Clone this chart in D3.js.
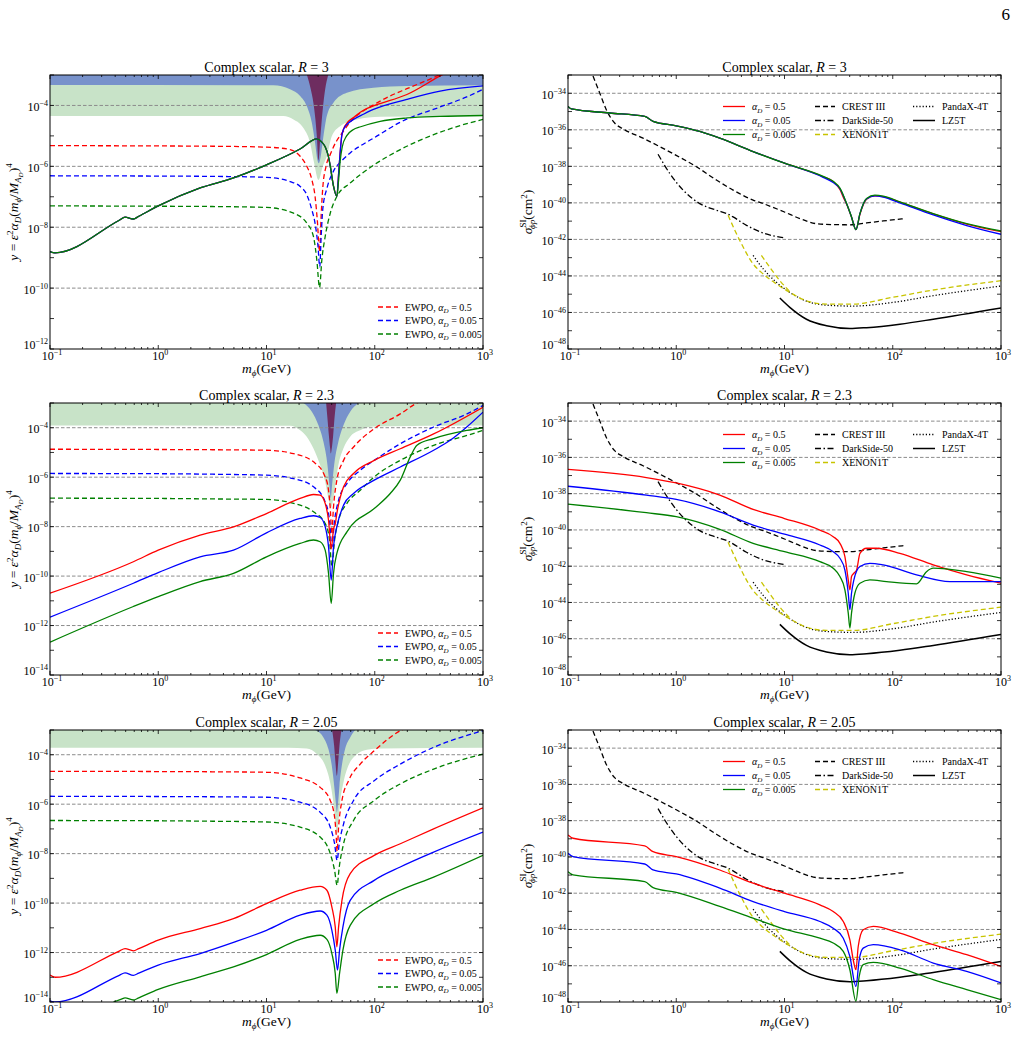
<!DOCTYPE html>
<html>
<head>
<meta charset="utf-8">
<script src="https://cdn.jsdelivr.net/npm/d3@7"></script>
<style>
body{margin:0;background:#fff}
text{font-family:"Liberation Serif","Times New Roman",serif;fill:#000}
</style>
</head>
<body>
<svg id="fig" width="1022" height="1038"></svg>
<script>
// all points are [log10(m_phi / GeV), log10(value)]

var alphaLabels = ['0.5', '0.05', '0.005'];
var rLabels = ['3', '2.3', '2.05'];

// ---- R = 3, left: y = eps^2 alpha_D (m/M)^4
var r3_yA = [[-1,-8.80],[-0.954,-8.84],[-0.36,-7.77],[-0.307,-7.67],[-0.23,-7.73],[-0.18,-7.64],[0,-7.30],[0.387,-6.71],[0.695,-6.38],[1.0,-5.95],[1.31,-5.43],[1.465,-5.10],[1.51,-5.2],[1.542,-5.36],[1.57,-5.65],[1.589,-5.99],[1.619,-6.65],[1.65,-6.99],[1.665,-6.3],[1.68,-5.56],[1.695,-5.0],[1.711,-4.78],[1.75,-4.55],[1.803,-4.4],[1.9,-4.15],[2.0,-4.0],[2.297,-3.64],[2.604,-3.03],[2.7,-2.85]];
var r3_yB = [[-1,-8.80],[-0.954,-8.84],[-0.36,-7.77],[-0.307,-7.67],[-0.23,-7.73],[-0.18,-7.64],[0,-7.30],[0.387,-6.71],[0.695,-6.38],[1.0,-5.95],[1.31,-5.43],[1.465,-5.10],[1.51,-5.2],[1.542,-5.36],[1.57,-5.65],[1.589,-5.99],[1.619,-6.65],[1.65,-6.99],[1.665,-6.3],[1.68,-5.56],[1.695,-5.0],[1.711,-4.79],[1.75,-4.6],[1.803,-4.46],[1.9,-4.28],[1.988,-4.13],[2.297,-3.80],[2.604,-3.53],[3,-3.36]];
var r3_yC = [[-1,-8.80],[-0.954,-8.84],[-0.36,-7.77],[-0.307,-7.67],[-0.23,-7.73],[-0.18,-7.64],[0,-7.30],[0.387,-6.71],[0.695,-6.38],[1.0,-5.95],[1.31,-5.43],[1.465,-5.10],[1.51,-5.2],[1.542,-5.36],[1.57,-5.65],[1.589,-5.99],[1.619,-6.65],[1.65,-6.99],[1.665,-6.5],[1.68,-5.85],[1.70,-5.35],[1.74,-5.0],[1.8,-4.8],[1.87,-4.7],[2.05,-4.52],[2.3,-4.41],[2.6,-4.36],[3,-4.33]];
var r3_ewpoA = [[-1,-5.32],[0,-5.33],[0.5,-5.34],[1.0,-5.37],[1.218,-5.45],[1.311,-5.67],[1.372,-6.0],[1.419,-6.44],[1.449,-7.0],[1.47,-7.8],[1.49,-8.8],[1.505,-7.6],[1.52,-6.7],[1.55,-6.0],[1.59,-5.6],[1.65,-5.15],[1.70,-4.9],[1.773,-4.55],[1.995,-3.97],[2.142,-3.69],[2.297,-3.45],[2.604,-2.98],[2.7,-2.8]];
var r3_ewpoB = [[-1,-6.31],[0,-6.32],[0.5,-6.33],[1.0,-6.36],[1.218,-6.50],[1.311,-6.66],[1.372,-6.93],[1.419,-7.43],[1.45,-7.9],[1.475,-8.6],[1.492,-9.3],[1.505,-8.3],[1.52,-7.4],[1.56,-6.7],[1.62,-6.15],[1.70,-5.8],[1.773,-5.56],[1.928,-5.2],[2.0,-5.05],[2.236,-4.55],[2.604,-4.05],[2.85,-3.72],[3,-3.47]];
var r3_ewpoC = [[-1,-7.30],[0,-7.31],[0.5,-7.32],[1.0,-7.35],[1.25,-7.54],[1.373,-7.87],[1.434,-8.31],[1.465,-9.08],[1.49,-9.98],[1.511,-9.08],[1.542,-8.31],[1.589,-7.54],[1.65,-6.99],[1.773,-6.55],[1.995,-5.95],[2.236,-5.45],[2.544,-4.96],[2.8,-4.65],[3,-4.46]];
var r3_bandG = [[-1,-4.35],[1.156,-4.35],[1.249,-4.46],[1.341,-4.74],[1.403,-5.23],[1.44,-5.89],[1.48,-6.45],[1.52,-6.0],[1.557,-5.67],[1.603,-5.01],[1.68,-4.68],[1.834,-4.46],[2.05,-4.37],[3,-4.35]];
var r3_bandB = [[-1,-3.33],[1.064,-3.34],[1.218,-3.47],[1.311,-3.69],[1.372,-4.02],[1.419,-4.57],[1.449,-5.23],[1.470,-5.78],[1.483,-5.9],[1.495,-5.78],[1.526,-5.01],[1.557,-4.35],[1.618,-3.91],[1.742,-3.58],[1.988,-3.42],[2.297,-3.36],[3,-3.34]];
var r3_bandP = [[1.372,-2.98],[1.409,-3.47],[1.433,-3.91],[1.452,-4.46],[1.465,-5.01],[1.48,-5.8],[1.498,-5.01],[1.511,-4.46],[1.526,-3.91],[1.542,-3.47],[1.572,-2.98]];

// ---- R = 2.3, left
var r23_yA = [[-1,-10.69],[-0.23,-9.42],[0,-8.95],[0.387,-8.34],[0.695,-8.01],[1.0,-7.47],[1.31,-6.86],[1.434,-6.70],[1.496,-6.73],[1.542,-7.06],[1.573,-7.74],[1.598,-8.9],[1.619,-8.1],[1.635,-7.9],[1.650,-7.47],[1.712,-6.39],[1.804,-5.85],[1.995,-5.32],[2.236,-4.85],[2.544,-4.25],[3,-3.17]];
var r23_yB = [[-1,-11.66],[-0.23,-10.29],[0,-9.86],[0.387,-9.22],[0.695,-8.95],[1.0,-8.25],[1.31,-7.67],[1.434,-7.56],[1.496,-7.63],[1.542,-8.0],[1.573,-8.81],[1.598,-10.16],[1.619,-8.81],[1.650,-8.0],[1.712,-7.13],[1.804,-6.66],[1.995,-6.12],[2.236,-5.59],[2.544,-4.91],[2.7,-4.5],[2.85,-3.97],[3,-3.37]];
var r23_yC = [[-1,-12.67],[-0.23,-11.23],[0,-10.83],[0.387,-10.22],[0.695,-9.89],[1.0,-9.22],[1.31,-8.68],[1.434,-8.54],[1.496,-8.61],[1.542,-8.95],[1.573,-9.89],[1.598,-11.1],[1.619,-9.89],[1.650,-9.08],[1.743,-8.21],[1.995,-7.27],[2.143,-6.66],[2.236,-6.12],[2.328,-5.18],[2.39,-4.71],[2.544,-4.44],[2.85,-4.11],[3,-4.0]];
var r23_ewpoA = [[-1,-4.87],[0,-4.88],[0.5,-4.89],[1.0,-4.91],[1.25,-5.05],[1.434,-5.38],[1.542,-5.99],[1.573,-6.53],[1.592,-7.47],[1.602,-8.3],[1.619,-7.20],[1.650,-6.12],[1.712,-5.32],[1.804,-4.78],[1.995,-4.04],[2.236,-3.44],[2.39,-3.0],[2.5,-2.8]];
var r23_ewpoB = [[-1,-5.85],[0,-5.86],[0.5,-5.88],[1.0,-5.92],[1.25,-6.06],[1.434,-6.39],[1.542,-7.0],[1.582,-7.74],[1.604,-8.81],[1.629,-7.74],[1.666,-6.93],[1.743,-6.26],[1.866,-5.72],[1.995,-5.32],[2.236,-4.65],[2.544,-3.97],[2.852,-3.44],[3,-3.10]];
var r23_ewpoC = [[-1,-6.85],[0,-6.86],[0.5,-6.88],[1.0,-6.90],[1.25,-7.06],[1.434,-7.40],[1.542,-7.87],[1.582,-8.54],[1.604,-9.62],[1.629,-8.54],[1.666,-7.74],[1.743,-7.06],[1.866,-6.53],[1.995,-5.99],[2.236,-5.32],[2.544,-4.71],[2.852,-4.31],[3,-4.11]];
var r23_bandG = [[-1,-3.91],[1.218,-3.92],[1.311,-4.10],[1.372,-4.36],[1.433,-4.83],[1.495,-5.51],[1.542,-6.18],[1.572,-6.85],[1.594,-7.25],[1.618,-6.85],[1.640,-6.18],[1.664,-5.51],[1.711,-4.83],[1.773,-4.36],[1.865,-4.10],[1.988,-3.95],[3,-3.91]];
var r23_bandB = [[1.341,-3.0],[1.419,-3.35],[1.480,-3.90],[1.526,-4.57],[1.563,-5.51],[1.581,-6.31],[1.594,-6.85],[1.606,-6.31],[1.625,-5.51],[1.664,-4.57],[1.711,-3.90],[1.773,-3.35],[1.850,-3.0]];
var r23_bandP = [[1.551,-3.0],[1.563,-3.62],[1.576,-4.30],[1.588,-4.83],[1.594,-5.04],[1.603,-4.83],[1.616,-4.30],[1.628,-3.62],[1.643,-3.0]];

// ---- R = 2.05, left
var r205_yA = [[-1,-12.91],[-0.954,-13.0],[-0.36,-11.94],[-0.307,-11.84],[-0.23,-11.93],[-0.18,-11.84],[0,-11.5],[0.387,-11.03],[0.695,-10.63],[1.0,-10.02],[1.31,-9.48],[1.496,-9.32],[1.558,-9.48],[1.604,-10.16],[1.635,-10.96],[1.650,-11.77],[1.666,-10.96],[1.697,-9.89],[1.773,-8.81],[1.995,-8.07],[2.236,-7.60],[2.544,-7.0],[3,-6.15]];
var r205_yB = [[-1,-13.95],[-0.954,-14.0],[-0.36,-12.92],[-0.307,-12.82],[-0.23,-12.92],[-0.18,-12.83],[0,-12.51],[0.387,-12.04],[0.695,-11.59],[1.0,-11.10],[1.31,-10.49],[1.496,-10.32],[1.558,-10.49],[1.604,-11.10],[1.635,-11.90],[1.656,-12.71],[1.675,-11.90],[1.706,-10.96],[1.773,-9.89],[1.995,-9.08],[2.236,-8.54],[2.544,-7.94],[3,-7.13]];
var r205_yC = [[-0.414,-14.0],[-0.34,-13.88],[-0.307,-13.83],[-0.23,-13.92],[-0.18,-13.83],[0,-13.49],[0.387,-12.98],[0.695,-12.58],[1.0,-12.08],[1.31,-11.47],[1.496,-11.30],[1.558,-11.47],[1.604,-12.04],[1.635,-12.84],[1.650,-13.65],[1.675,-12.84],[1.706,-11.90],[1.773,-10.90],[1.995,-10.02],[2.236,-9.48],[2.544,-8.95],[3,-8.07]];
var r205_ewpoA = [[-1,-4.67],[0,-4.68],[0.5,-4.69],[1.0,-4.71],[1.31,-4.94],[1.496,-5.32],[1.589,-5.85],[1.629,-6.53],[1.643,-7.20],[1.652,-7.9],[1.666,-6.93],[1.697,-5.85],[1.758,-5.05],[1.866,-4.38],[1.995,-3.84],[2.236,-3.03],[2.3,-2.9]];
var r205_ewpoB = [[-1,-5.68],[0,-5.69],[0.5,-5.70],[1.0,-5.72],[1.31,-5.92],[1.496,-6.33],[1.589,-6.93],[1.629,-7.60],[1.652,-8.27],[1.672,-7.60],[1.712,-6.80],[1.804,-5.85],[1.995,-5.05],[2.236,-4.38],[2.544,-3.70],[3,-3.03]];
var r205_ewpoC = [[-1,-6.66],[0,-6.67],[0.5,-6.69],[1.0,-6.72],[1.31,-6.93],[1.496,-7.33],[1.589,-8.0],[1.629,-8.68],[1.652,-9.28],[1.672,-8.54],[1.712,-7.60],[1.804,-6.66],[1.995,-5.85],[2.236,-5.18],[2.544,-4.58],[3,-3.97]];
var r205_bandG = [[-1,-3.72],[1.2,-3.72],[1.372,-3.75],[1.465,-3.97],[1.542,-4.44],[1.588,-5.12],[1.618,-5.92],[1.637,-6.73],[1.650,-7.27],[1.664,-6.73],[1.680,-5.92],[1.711,-5.12],[1.757,-4.44],[1.819,-4.04],[1.927,-3.80],[2.05,-3.75],[3,-3.72]];
var r205_bandB = [[1.449,-3.0],[1.526,-3.30],[1.572,-3.77],[1.603,-4.44],[1.625,-5.25],[1.640,-5.92],[1.650,-6.33],[1.662,-5.92],[1.674,-5.25],[1.696,-4.44],[1.726,-3.77],[1.773,-3.30],[1.819,-3.0]];
var r205_bandP = [[1.606,-3.0],[1.625,-3.64],[1.637,-4.31],[1.650,-4.85],[1.662,-4.31],[1.674,-3.64],[1.692,-3.0]];

// ---- right: sigma_SI (cm^2)
var r3_sigA = [[-1,-34.72],[-0.969,-34.86],[-0.615,-35.08],[-0.291,-35.27],[-0.214,-35.54],[0,-35.78],[0.217,-36.09],[0.402,-36.46],[0.71,-37.19],[1.0,-37.83],[1.357,-38.57],[1.45,-38.84],[1.512,-39.27],[1.545,-39.72],[1.573,-40.06],[1.619,-40.77],[1.66,-41.47],[1.697,-40.62],[1.758,-39.8],[1.835,-39.62],[1.912,-39.66],[2.066,-39.96],[2.374,-40.6],[2.683,-41.16],[3,-41.58]];
var r3_sigB = [[-1,-34.72],[-0.969,-34.86],[-0.615,-35.08],[-0.291,-35.27],[-0.214,-35.54],[0,-35.78],[0.217,-36.09],[0.402,-36.46],[0.71,-37.19],[1.0,-37.83],[1.357,-38.6],[1.45,-38.89],[1.512,-39.22],[1.573,-40.04],[1.619,-40.77],[1.66,-41.47],[1.697,-40.59],[1.758,-39.78],[1.835,-39.62],[1.912,-39.68],[2.066,-40.0],[2.374,-40.66],[2.683,-41.24],[3,-41.72]];
var r3_sigC = [[-1,-34.72],[-0.969,-34.86],[-0.615,-35.08],[-0.291,-35.27],[-0.214,-35.54],[0,-35.78],[0.217,-36.09],[0.402,-36.46],[0.71,-37.19],[1.0,-37.83],[1.357,-38.55],[1.45,-38.82],[1.512,-39.19],[1.573,-40.02],[1.619,-40.77],[1.66,-41.47],[1.697,-40.59],[1.758,-39.76],[1.835,-39.58],[1.912,-39.63],[2.066,-39.94],[2.374,-40.59],[2.683,-41.14],[3,-41.54]];
var r23_sigA = [[-1,-36.66],[-0.276,-37.11],[0,-37.41],[0.402,-38.08],[0.71,-38.87],[1.0,-39.37],[1.327,-40.01],[1.45,-40.37],[1.512,-40.74],[1.558,-41.47],[1.589,-42.75],[1.604,-43.30],[1.619,-42.57],[1.641,-42.39],[1.666,-42.21],[1.697,-41.29],[1.758,-41.01],[1.851,-41.01],[2.066,-41.29],[2.374,-41.93],[2.683,-42.48],[3,-42.94]];
var r23_sigB = [[-1,-37.59],[-0.276,-38.08],[0,-38.32],[0.402,-39.0],[0.71,-39.73],[1.0,-40.23],[1.327,-40.83],[1.45,-41.20],[1.512,-41.56],[1.558,-42.21],[1.589,-43.49],[1.604,-44.40],[1.619,-43.49],[1.641,-42.75],[1.697,-42.02],[1.789,-41.84],[1.912,-41.93],[2.22,-42.48],[2.528,-42.85],[2.683,-42.85],[3,-42.85]];
var r23_sigC = [[-1,-38.58],[-0.276,-39.05],[0,-39.27],[0.402,-39.97],[0.71,-40.74],[1.0,-41.20],[1.327,-41.75],[1.45,-42.11],[1.512,-42.57],[1.558,-43.30],[1.589,-44.59],[1.604,-45.41],[1.619,-44.59],[1.65,-43.49],[1.697,-42.94],[1.789,-42.75],[1.943,-42.85],[2.22,-42.97],[2.312,-42.30],[2.374,-42.11],[2.683,-42.30],[3,-42.66]];
var r205_sigA = [[-1,-38.79],[-0.954,-38.97],[-0.291,-39.39],[-0.214,-39.71],[0,-39.98],[0.402,-40.72],[0.71,-41.45],[1.0,-42.0],[1.327,-42.64],[1.45,-43.01],[1.543,-43.56],[1.604,-44.57],[1.635,-45.67],[1.66,-46.22],[1.681,-44.94],[1.727,-44.02],[1.82,-43.83],[2.066,-44.20],[2.374,-44.84],[2.683,-45.39],[3,-46.04]];
var r205_sigB = [[-1,-39.80],[-0.954,-39.98],[-0.291,-40.39],[-0.214,-40.72],[0,-40.94],[0.402,-41.72],[0.71,-42.46],[1.0,-43.01],[1.327,-43.56],[1.45,-43.93],[1.543,-44.48],[1.604,-45.49],[1.66,-47.14],[1.69,-45.67],[1.727,-45.03],[1.82,-44.84],[2.066,-45.12],[2.374,-45.85],[2.683,-46.31],[3,-46.95]];
var r205_sigC = [[-1,-40.81],[-0.954,-40.99],[-0.291,-41.36],[-0.214,-41.69],[0,-41.96],[0.402,-42.73],[0.71,-43.38],[1.0,-43.98],[1.327,-44.48],[1.45,-44.75],[1.543,-45.21],[1.604,-46.22],[1.66,-47.96],[1.69,-46.59],[1.727,-45.94],[1.82,-45.82],[2.066,-46.13],[2.374,-46.77],[2.683,-47.32],[3,-47.87]];

// experimental limits (same on every right panel)
var crest = [[-0.769,-33.06],[-0.707,-33.98],[-0.646,-34.90],[-0.569,-35.63],[-0.492,-35.95],[-0.307,-36.46],[-0.153,-36.92],[0,-37.4],[0.186,-38.02],[0.371,-38.75],[0.525,-39.30],[0.71,-39.85],[0.803,-40.04],[1.0,-40.50],[1.142,-40.86],[1.296,-41.14],[1.45,-41.19],[1.604,-41.2],[1.758,-41.10],[1.912,-40.99],[2.112,-40.86]];
var darkside = [[-0.168,-37.34],[-0.06,-38.39],[0.063,-39.30],[0.217,-40.04],[0.371,-40.40],[0.479,-40.62],[0.525,-40.77],[0.649,-41.23],[0.803,-41.65],[1.0,-41.91]];
var xenonA = [[0.479,-40.68],[0.587,-42.06],[0.71,-43.34],[0.803,-43.89],[0.926,-44.44],[1.049,-44.90],[1.203,-45.36],[1.388,-45.54],[1.635,-45.54],[2.0,-45.17],[2.374,-44.77],[3,-44.26]];
var xenonB = [[0.787,-42.88],[0.864,-43.52],[0.957,-44.26],[1.049,-44.85]];
var pandax = [[0.71,-42.88],[0.803,-43.61],[0.926,-44.35],[1.049,-44.90],[1.203,-45.38],[1.388,-45.6],[1.635,-45.65],[2.0,-45.45],[2.374,-45.08],[3,-44.55]];
var lz5t = [[0.957,-45.21],[1.049,-45.72],[1.203,-46.37],[1.388,-46.73],[1.604,-46.88],[1.758,-46.83],[2.066,-46.64],[2.374,-46.37],[3,-45.76]];

var RED = '#ff0000', BLUE = '#0000ff', GREEN = '#008000', YEL = '#c8c400';
var BAND_G = '#c8e3c8', BAND_B = '#7892cb', BAND_P = '#6e2d60';

var svg = d3.select('#fig');
function lg(v) { return Math.pow(10, v); }

// text with sub/superscripts: parts = [text, {i:italic, off:baseline shift, s:size, dx}]
function rich(t, parts) {
  var cur = 0;
  parts.forEach(function(p) {
    var o = p[1] || {};
    var off = o.off || 0;
    var ts = t.append('tspan').attr('dy', off - cur).text(p[0]);
    if (o.i) ts.attr('font-style', 'italic');
    if (o.s) ts.attr('font-size', o.s);
    if (o.dx) ts.attr('dx', o.dx);
    cur = off;
  });
  return t;
}
function pow10(t, e) {
  return rich(t, [['10'], [e < 0 ? '\u2212' + (-e) : '' + e, {off: -5, s: 8}]]);
}

var colX = [[50, 483], [568, 1001]];
var rowY = [[75, 349], [403, 675], [730, 1002]];

function drawPanel(cfg, idx) {
  var X0 = cfg.xr[0], X1 = cfg.xr[1], Y0 = cfg.yr[0], Y1 = cfg.yr[1];
  var x = d3.scaleLog().domain([0.1, 1000]).range([X0, X1]);
  var y = d3.scaleLog().domain([lg(cfg.ylo), lg(cfg.yhi)]).range([Y1, Y0]);
  var cid = 'clip' + idx;
  svg.append('clipPath').attr('id', cid).append('rect')
    .attr('x', X0).attr('y', Y0).attr('width', X1 - X0).attr('height', Y1 - Y0);
  var g = svg.append('g').attr('clip-path', 'url(#' + cid + ')');

  var line = d3.line().x(function(d) { return x(lg(d[0])); }).y(function(d) { return y(lg(d[1])); })
    .curve(d3.curveMonotoneX);
  var area = d3.area().x(function(d) { return x(lg(d[0])); }).y0(Y0 - 10)
    .y1(function(d) { return y(lg(d[1])); }).curve(d3.curveMonotoneX);

  (cfg.bands || []).forEach(function(b) {
    g.append('path').attr('d', area(b.data)).attr('fill', b.color).attr('stroke', 'none');
  });

  // dashed grid at labelled decades
  for (var e = cfg.ylo; e < cfg.yhi; e++) {
    if (e % 2 !== 0 || e === cfg.ylo) continue;
    g.append('line').attr('x1', X0).attr('x2', X1).attr('y1', y(lg(e))).attr('y2', y(lg(e)))
      .attr('stroke', '#8c8c8c').attr('stroke-width', 1).attr('stroke-dasharray', '3.5,2');
  }

  cfg.lines.forEach(function(s) {
    g.append('path').attr('d', line(s.data)).attr('fill', 'none')
      .attr('stroke', s.color).attr('stroke-width', s.w || 1.3)
      .attr('stroke-dasharray', s.dash || null);
  });

  // frame and ticks
  svg.append('rect').attr('x', X0).attr('y', Y0).attr('width', X1 - X0).attr('height', Y1 - Y0)
    .attr('fill', 'none').attr('stroke', '#000').attr('stroke-width', 1);
  var tk = svg.append('g').attr('stroke', '#000').attr('stroke-width', 0.8);
  for (var d = -1; d <= 3; d++) {
    for (var m = 1; m <= 9; m++) {
      if (d === 3 && m > 1) break;
      var xv = x(m * lg(d)), len = m === 1 ? 4 : 2;
      tk.append('line').attr('x1', xv).attr('x2', xv).attr('y1', Y1).attr('y2', Y1 - len);
      tk.append('line').attr('x1', xv).attr('x2', xv).attr('y1', Y0).attr('y2', Y0 + len);
    }
  }
  for (var k = cfg.ylo; k <= cfg.yhi; k++) {
    var yv = y(lg(k));
    tk.append('line').attr('x1', X0).attr('x2', X0 + 4).attr('y1', yv).attr('y2', yv);
    tk.append('line').attr('x1', X1).attr('x2', X1 - 4).attr('y1', yv).attr('y2', yv);
    if (k % 2 === 0) {
      // the lowest label sits a little higher so it clears the 10^-1 below it
      var shift = k === cfg.ylo ? 0 : 5.5;
      pow10(svg.append('text').attr('x', X0 - 2).attr('y', yv + shift).attr('text-anchor', 'end')
        .attr('font-size', 12), k);
    }
  }
  for (var j = -1; j <= 3; j++) {
    pow10(svg.append('text').attr('x', x(lg(j)) + 2).attr('y', Y1 + 11).attr('text-anchor', 'middle')
      .attr('font-size', 12), j);
  }

  // title and axis labels
  rich(svg.append('text').attr('x', (X0 + X1) / 2).attr('y', Y0 - 3.5).attr('text-anchor', 'middle')
    .attr('font-size', 14), [['Complex scalar, '], ['R', {i: 1}], [' = ' + cfg.r]]);
  rich(svg.append('text').attr('x', (X0 + X1) / 2).attr('y', Y1 + 24).attr('text-anchor', 'middle')
    .attr('font-size', 13.5), [['m', {i: 1}], ['\u03d5', {i: 1, off: 3, s: 9}], ['(GeV)']]);

  var yl = svg.append('text').attr('text-anchor', 'middle').attr('font-size', 13.5);
  if (cfg.side === 'L') {
    yl.attr('transform', 'translate(' + (X0 - 32) + ',' + ((Y0 + Y1) / 2) + ') rotate(-90)');
    rich(yl, [['y', {i: 1}], [' = '], ['\u03b5', {i: 1}], ['2', {off: -5, s: 9}], ['\u03b1', {i: 1}],
      ['D', {i: 1, off: 3, s: 9}], ['('], ['m', {i: 1}], ['\u03d5', {i: 1, off: 3, s: 9}], ['/'],
      ['M', {i: 1}], ['A', {i: 1, off: 3, s: 9}], ['D', {i: 1, off: 5, s: 7}], [')'], ['4', {off: -6, s: 9}]]);
  } else {
    yl.attr('transform', 'translate(' + (X0 - 36) + ',' + ((Y0 + Y1) / 2) + ') rotate(-90)');
    rich(yl, [['\u03c3', {i: 1}], ['SI', {off: -6, s: 9}], ['\u03d5p', {i: 1, off: 3, s: 9, dx: -9.5}], ['(cm'],
      ['2', {off: -5, s: 9}], [')']]);
  }

  // legends
  var lgd = svg.append('g').attr('font-size', 10);
  cfg.legend.forEach(function(it) {
    lgd.append('line').attr('x1', it.x).attr('x2', it.x + it.len).attr('y1', it.y).attr('y2', it.y)
      .attr('stroke', it.color).attr('stroke-width', it.w || 1.3).attr('stroke-dasharray', it.dash || null);
    rich(lgd.append('text').attr('x', it.x + it.len + 7).attr('y', it.y + 3.5), it.label);
  });
}

function alphaParts(prefix, a) {
  var p = prefix ? [[prefix]] : [];
  return p.concat([['\u03b1', {i: 1}], ['D', {i: 1, off: 2.5, s: 7}], [' = ' + a]]);
}

var leftSets = [
  {ylo: -12, sol: [r3_yA, r3_yB, r3_yC], ew: [r3_ewpoA, r3_ewpoB, r3_ewpoC], bands: [r3_bandG, r3_bandB, r3_bandP]},
  {ylo: -14, sol: [r23_yA, r23_yB, r23_yC], ew: [r23_ewpoA, r23_ewpoB, r23_ewpoC], bands: [r23_bandG, r23_bandB, r23_bandP]},
  {ylo: -14, sol: [r205_yA, r205_yB, r205_yC], ew: [r205_ewpoA, r205_ewpoB, r205_ewpoC], bands: [r205_bandG, r205_bandB, r205_bandP]}
];
var rightSets = [[r3_sigA, r3_sigB, r3_sigC], [r23_sigA, r23_sigB, r23_sigC], [r205_sigA, r205_sigB, r205_sigC]];
var cols = [RED, BLUE, GREEN];

rowY.forEach(function(ry, i) {
  var L = leftSets[i];
  var X1 = colX[0][1];
  var linesL = [];
  [0, 1, 2].forEach(function(c) { linesL.push({data: L.ew[c], color: cols[c], dash: '5,3'}); });
  [0, 1, 2].forEach(function(c) { linesL.push({data: L.sol[c], color: cols[c]}); });
  var legL = [0, 1, 2].map(function(c) {
    return {x: X1 - 105, len: 20, y: ry[1] - 42 + c * 13.5, color: cols[c], dash: '5,3',
      label: alphaParts('EWPO, ', alphaLabels[c])};
  });
  drawPanel({side: 'L', r: rLabels[i], xr: colX[0], yr: ry, ylo: L.ylo, yhi: -3,
    bands: [{data: L.bands[0], color: BAND_G}, {data: L.bands[1], color: BAND_B}, {data: L.bands[2], color: BAND_P}],
    lines: linesL, legend: legL}, 'L' + i);

  var R = rightSets[i];
  var RX0 = colX[1][0];
  var linesR = [
    {data: crest, color: '#000', dash: '5,3'},
    {data: darkside, color: '#000', dash: '6,2.5,1.5,2.5'},
    {data: lz5t, color: '#000', w: 1.5},
    {data: pandax, color: '#000', dash: '1.2,2'},
    {data: xenonA, color: YEL, dash: '5,3'},
    {data: xenonB, color: YEL, dash: '5,3'},
    {data: R[0], color: RED}, {data: R[1], color: BLUE}, {data: R[2], color: GREEN}
  ];
  var ly = ry[0] + 31.5;
  var legR = [
    {x: RX0 + 155, len: 22, y: ly, color: RED, label: alphaParts('', alphaLabels[0])},
    {x: RX0 + 155, len: 22, y: ly + 14, color: BLUE, label: alphaParts('', alphaLabels[1])},
    {x: RX0 + 155, len: 22, y: ly + 28, color: GREEN, label: alphaParts('', alphaLabels[2])},
    {x: RX0 + 247, len: 20, y: ly, color: '#000', dash: '5,3', label: [['CREST III']]},
    {x: RX0 + 247, len: 20, y: ly + 14, color: '#000', dash: '6,2.5,1.5,2.5', label: [['DarkSide-50']]},
    {x: RX0 + 247, len: 20, y: ly + 28, color: YEL, dash: '5,3', label: [['XENON1T']]},
    {x: RX0 + 345, len: 22, y: ly, color: '#000', dash: '1.2,2', label: [['PandaX-4T']]},
    {x: RX0 + 345, len: 22, y: ly + 14, color: '#000', w: 1.5, label: [['LZ5T']]}
  ];
  drawPanel({side: 'R', r: rLabels[i], xr: colX[1], yr: ry, ylo: -48, yhi: -33,
    lines: linesR, legend: legR}, 'R' + i);
});

svg.append('text').attr('x', 1010).attr('y', 20).attr('text-anchor', 'end').attr('font-size', 17).text('6');
</script>
</body>
</html>
